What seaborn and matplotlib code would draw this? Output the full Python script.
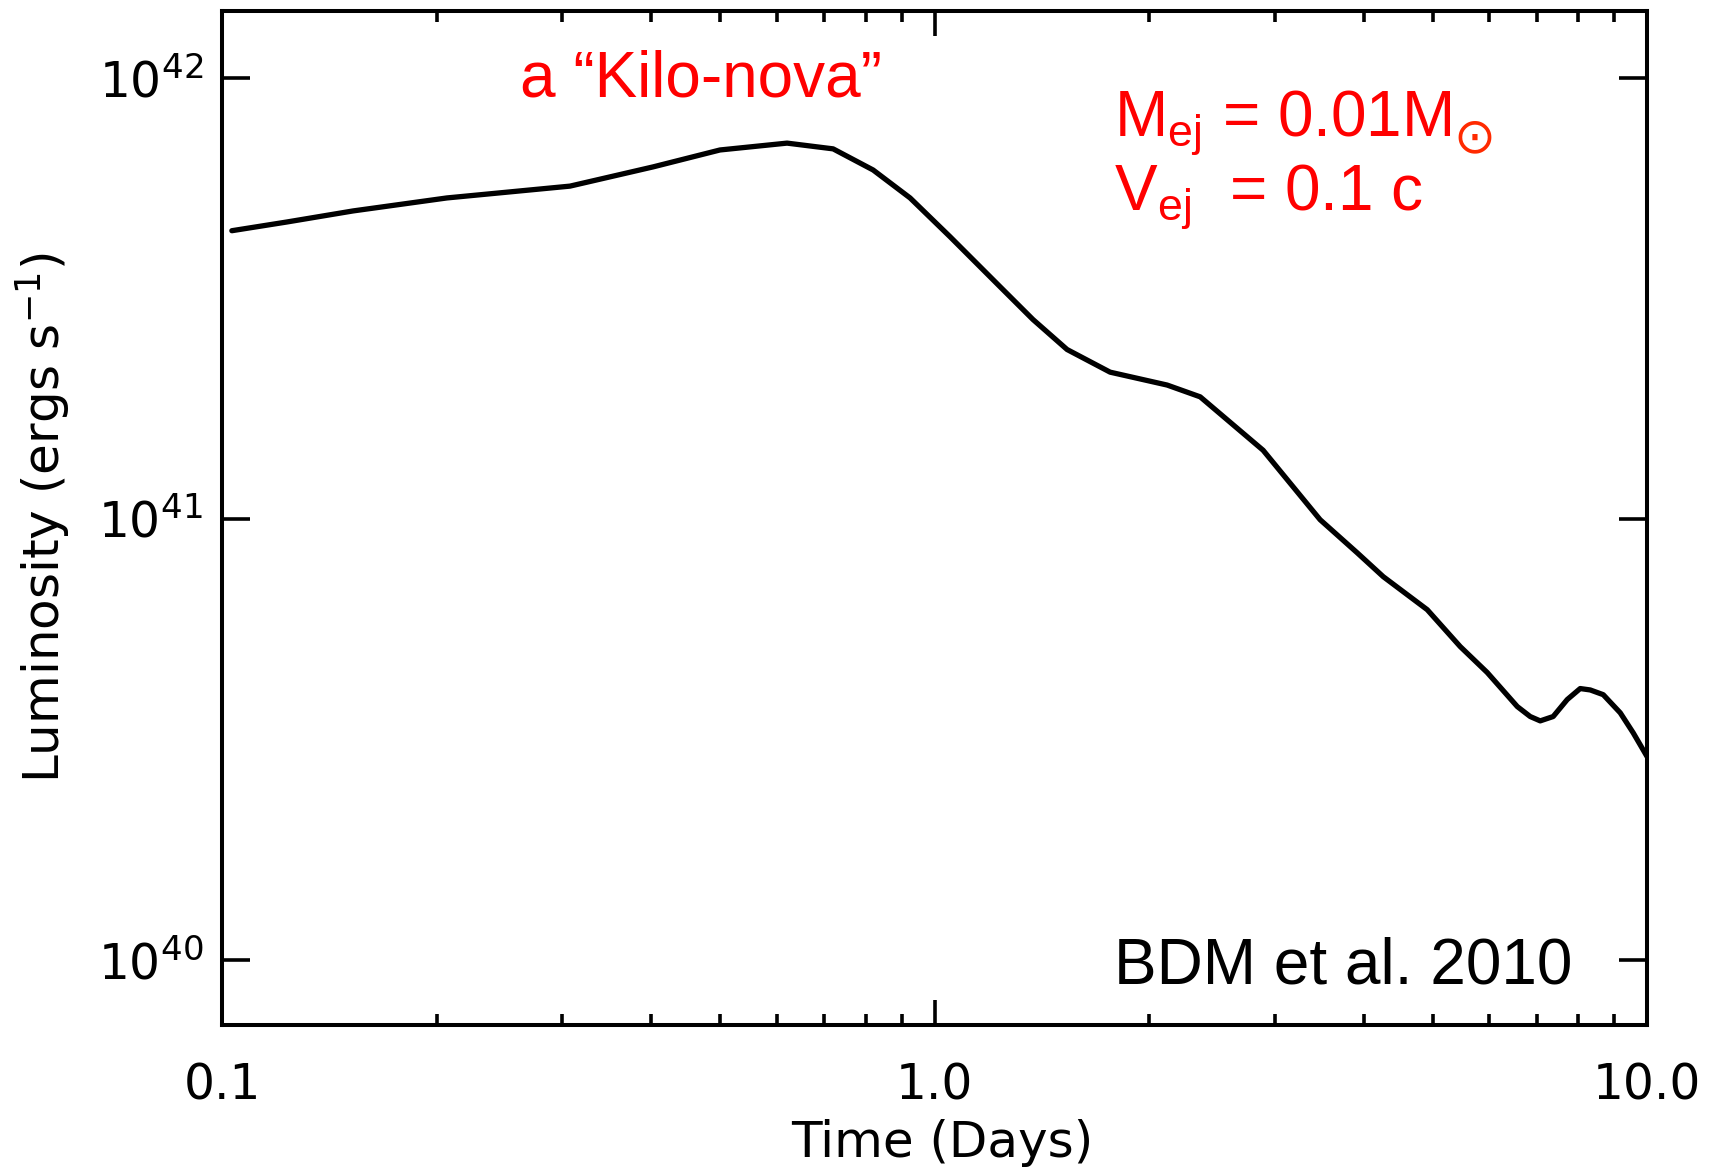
import numpy as np
import pandas as pd
import matplotlib
matplotlib.use("Agg")
import matplotlib.pyplot as plt
from matplotlib.ticker import LogLocator, NullLocator, FixedLocator, FixedFormatter, NullFormatter
import seaborn as sns

# Kilonova bolometric light curve (time in days, luminosity in erg/s)
time_days = [0.1031, 0.1232, 0.1526, 0.2066, 0.3076, 0.4024, 0.4995, 0.6205,
             0.7201, 0.8194, 0.9235, 1.051, 1.235, 1.374, 1.534, 1.763, 2.120,
             2.359, 2.891, 3.476, 3.919, 4.263, 4.914, 5.467, 5.966, 6.575,
             6.855, 7.081, 7.384, 7.727, 8.058, 8.324, 8.681, 9.171, 9.563, 10.0]
luminosity = [4.50e41, 4.71e41, 4.99e41, 5.34e41, 5.68e41, 6.28e41, 6.86e41, 7.11e41,
              6.90e41, 6.18e41, 5.34e41, 4.36e41, 3.36e41, 2.83e41, 2.42e41, 2.15e41, 2.01e41,
              1.89e41, 1.43e41, 9.95e40, 8.37e40, 7.39e40, 6.22e40, 5.13e40, 4.48e40, 3.75e40,
              3.56e40, 3.48e40, 3.56e40, 3.89e40, 4.12e40, 4.09e40, 3.99e40, 3.63e40, 3.27e40, 2.89e40]

x_ticks = [0.1, 1.0, 10.0]
x_ticklabels = ["0.1", "1.0", "10.0"]
y_ticks = [1e40, 1e41, 1e42]
y_ticklabels = [r"$\mathregular{10^{40}}$", r"$\mathregular{10^{41}}$", r"$\mathregular{10^{42}}$"]

title_text = "a \u201cKilo-nova\u201d"
mass_text = r"M$_{\mathregular{ej}}$ = 0.01M"
sun_symbol = "\u2299"
vel_text = r"V$_{\mathregular{ej}}$  = 0.1 c"
ref_text = "BDM et al. 2010"

df = pd.DataFrame({"t": time_days, "L": luminosity})

sns.set_theme(style="ticks")
plt.rcParams["font.family"] = ["DejaVu Sans"]
plt.rcParams.update({"text.color": "black", "axes.labelcolor": "black",
                     "xtick.color": "black", "ytick.color": "black"})

W, H = 1718, 1171
fig = plt.figure(figsize=(W / 100, H / 100), dpi=100)
fig.patch.set_facecolor("white")
ax = fig.add_axes([222.4 / W, 1 - 1024.5 / H, (1647 - 222.4) / W, (1024.5 - 11) / H])
ax.set_facecolor("white")

sns.lineplot(data=df, x="t", y="L", ax=ax, color="black", linewidth=3.8,
             estimator=None, sort=False)

ax.set_xscale("log")
ax.set_yscale("log")
ax.set_xlim(0.1, 10.0)
ax.set_ylim(10 ** 39.853, 10 ** 42.1515)

for s in ax.spines.values():
    s.set_linewidth(2.9)
    s.set_color("black")
    s.set_visible(True)

ax.xaxis.set_major_locator(FixedLocator(x_ticks))
ax.xaxis.set_major_formatter(FixedFormatter(x_ticklabels))
ax.xaxis.set_minor_locator(LogLocator(base=10, subs=np.arange(2, 10)))
ax.xaxis.set_minor_formatter(NullFormatter())
ax.yaxis.set_major_locator(FixedLocator(y_ticks))
ax.yaxis.set_major_formatter(FixedFormatter(y_ticklabels))
ax.yaxis.set_minor_locator(NullLocator())

ax.tick_params(axis="both", which="both", direction="in", top=True, right=True,
               color="black", width=2.6, labelcolor="black")
ax.tick_params(axis="x", which="major", length=18, pad=27, labelsize=35)
ax.tick_params(axis="x", which="minor", length=8)
ax.tick_params(axis="y", which="major", length=20, pad=14, labelsize=35)

ax.set_xlabel("Time (Days)", fontsize=36)
ax.set_ylabel(r"Luminosity (ergs s$^{\mathregular{-1}}$)", fontsize=36)
ax.xaxis.set_label_coords(0.505, -0.093)
ax.yaxis.set_label_coords(-0.105, 0.5)

red = "#ff0000"
sub_red = "#ff2a00"
fig.text(520 / W, 1 - 96.5 / H, title_text, color=red, fontsize=46,
         family="Liberation Sans", va="baseline", ha="left")
mass = fig.text(1114 / W, 1 - 137 / H, mass_text, color=red, fontsize=46,
                family="Liberation Sans", va="baseline", ha="left")
fig.text(1114 / W, 1 - 210 / H, vel_text, color=red, fontsize=46,
         family="Liberation Sans", va="baseline", ha="left")
fig.text(1114 / W, 1 - 984 / H, ref_text, color="black", fontsize=46,
         family="Liberation Sans", va="baseline", ha="left")

# solar symbol placed right after the mass text, slightly lowered
fig.canvas.draw()
bb = mass.get_window_extent(renderer=fig.canvas.get_renderer())
fig.text((bb.x1 + 2) / W, 1 - 152 / H, sun_symbol, color=sub_red, fontsize=36,
         family="DejaVu Sans", va="baseline", ha="left")

fig.savefig("out.png", dpi=100, facecolor="white")
